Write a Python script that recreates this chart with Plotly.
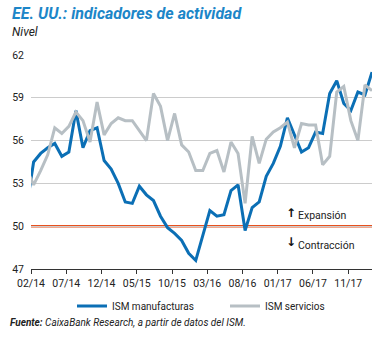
import plotly.graph_objects as go

# Monthly series, 01/2014 - 02/2018
manufacturas = [
    51.3,
    54.5, 55.1, 55.5, 55.8, 54.9, 55.2, 58.1, 55.5, 56.7, 56.9,
    54.6, 54.0, 53.0, 51.7, 51.6, 52.8, 52.2, 51.8, 50.7, 49.9,
    49.5, 49.0, 48.1, 47.6, 49.4, 51.1, 50.7, 50.8, 52.5, 52.9,
    49.7, 51.3, 51.7, 53.5, 54.4, 55.6, 57.6, 56.4, 55.2, 55.5,
    56.6, 56.5, 59.3, 60.2, 58.6, 58.1, 59.4, 59.2, 60.8,
]
servicios = [
    54.0,
    52.9, 53.9, 55.0, 56.9, 56.5, 57.0, 58.0, 57.4, 55.9, 58.7,
    56.4, 57.2, 57.6, 57.4, 57.4, 56.7, 56.0, 59.3, 58.4, 56.0,
    57.9, 55.7, 55.2, 53.9, 53.9, 55.1, 55.3, 53.8, 55.9, 55.1,
    51.6, 56.3, 54.4, 56.1, 56.6, 56.9, 57.3, 55.5, 57.2, 57.1,
    57.1, 54.3, 54.9, 59.4, 59.8, 57.4, 56.0, 59.9, 59.5,
]
tick_labels = ["02/14", "07/14", "12/14", "05/15", "10/15",
               "03/16", "08/16", "01/17", "06/17", "11/17"]
y_ticks = [47, 50, 53, 56, 59, 62]
umbral = 50

W, H = 386, 338
M_L, M_R, M_T, M_B = 31, 14, 55, 69

x = list(range(len(manufacturas)))  # 0 = 01/14
tick_pos = [0.63 + 5 * k for k in range(len(tick_labels))]

BLUE = "#0B6FB5"
GREY = "#B7BFC4"
RED = "#E8511F"
FONT = "Liberation Sans Narrow, Roboto, Arial, sans-serif"


def px_x(p):
    return (p - M_L) / (W - M_L - M_R)


def px_y(p):
    return 1 - (p - M_T) / (H - M_T - M_B)


fig = go.Figure()
fig.add_trace(go.Scatter(x=x, y=manufacturas, mode="lines", name="ISM manufacturas",
                         line=dict(color=BLUE, width=3), legend="legend"))
fig.add_trace(go.Scatter(x=x, y=servicios, mode="lines", name="ISM servicios",
                         line=dict(color=GREY, width=3), legend="legend2"))

fig.add_shape(type="line", xref="paper", x0=0, x1=1, yref="y", y0=umbral, y1=umbral,
              line=dict(color=RED, width=2.5), layer="below")

ann = [
    dict(text="<b><i>EE. UU.: indicadores de actividad</i></b>", x=px_x(10), y=px_y(14),
         font=dict(size=16, color="#1C86C8", family=FONT)),
    dict(text="<i>Nivel</i>", x=px_x(10), y=px_y(32),
         font=dict(size=12, color="#222222", family=FONT)),
    dict(text="<b><i>Fuente:</i></b><i> CaixaBank Research, a partir de datos del ISM.</i>",
         x=px_x(8), y=px_y(322), font=dict(size=10, color="#222222", family=FONT)),
    dict(text="<b>↑</b>", x=px_x(283.5), y=px_y(213),
         font=dict(size=12, color="#111111", family="DejaVu Sans")),
    dict(text="Expansión", x=px_x(295.5), y=px_y(215),
         font=dict(size=10.5, color="#222222", family=FONT)),
    dict(text="<b>↓</b>", x=px_x(283.5), y=px_y(242),
         font=dict(size=12, color="#111111", family="DejaVu Sans")),
    dict(text="Contracción", x=px_x(295.5), y=px_y(245),
         font=dict(size=10.5, color="#222222", family=FONT)),
]
for a in ann:
    fig.add_annotation(xref="paper", yref="paper", xanchor="left", yanchor="middle",
                       showarrow=False, **a)

legend_style = dict(orientation="h", yanchor="middle", xanchor="left",
                    bgcolor="rgba(0,0,0,0)", font=dict(size=10, color="#222222", family=FONT))

fig.update_layout(
    width=W, height=H,
    margin=dict(l=M_L, r=M_R, t=M_T, b=M_B, autoexpand=False),
    paper_bgcolor="white", plot_bgcolor="white",
    showlegend=True,
    legend=dict(x=px_x(72), y=px_y(306), **legend_style),
    legend2=dict(x=px_x(225), y=px_y(306), **legend_style),
    xaxis=dict(range=[0.63, 49.0], tickmode="array", tickvals=tick_pos, ticktext=tick_labels,
               showgrid=False, zeroline=False, showline=True, linecolor="#333333", linewidth=1,
               ticks="outside", ticklen=4, tickcolor="#333333", tickwidth=1,
               tickfont=dict(size=10.5, color="#222222", family=FONT)),
    yaxis=dict(range=[47, 62], tickmode="array", tickvals=y_ticks,
               showgrid=True, gridcolor="#CCCCCC", gridwidth=1, zeroline=False,
               showline=False, ticks="", ticklabelstandoff=6,
               tickfont=dict(size=10.5, color="#222222", family=FONT)),
)

fig.write_html("out.html")
